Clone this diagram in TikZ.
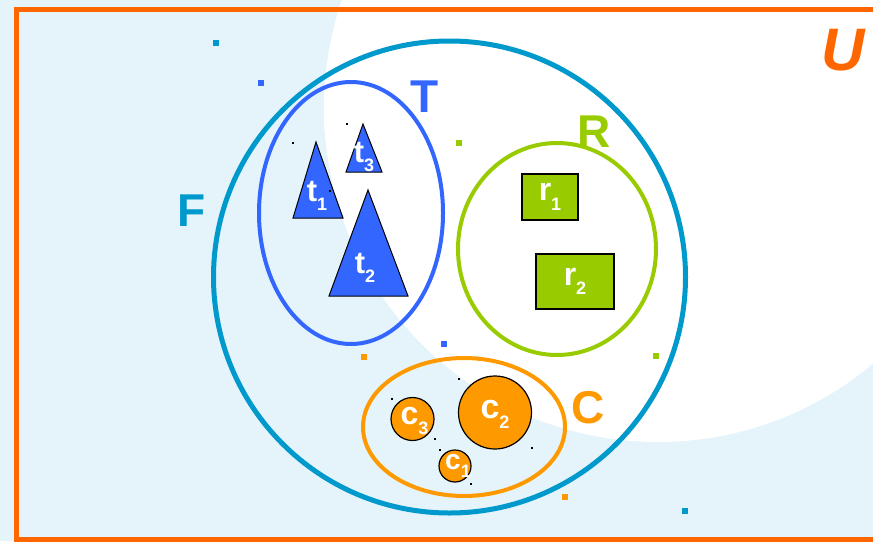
\documentclass[tikz,border=0pt]{standalone}
\usepackage{fontspec}
\setmainfont{Liberation Sans}
\definecolor{bg}{RGB}{228,244,250}
\definecolor{uorange}{RGB}{255,102,0}
\definecolor{fteal}{RGB}{0,153,204}
\definecolor{tblue}{RGB}{51,102,255}
\definecolor{rgreen}{RGB}{153,204,0}
\definecolor{corange}{RGB}{255,153,0}
\pgfdeclareradialshading{blob}{\pgfpoint{0bp}{0bp}}{color(0bp)=(white); color(41bp)=(white); color(50bp)=(bg)}
\newcommand{\elbl}[3]{\fontsize{#3}{#3}\selectfont\bfseries #1\raisebox{-0.3em}{\fontsize{18}{18}\selectfont #2}}
\begin{document}
\begin{tikzpicture}[x=1pt,y=-1pt,
  setlbl/.style={font=\fontsize{46}{46}\selectfont\bfseries, inner sep=0pt},
  elem/.style={text=white, inner sep=0pt},
  tri/.style={fill=tblue, draw=black, line width=1pt, line join=miter},
  rbox/.style={fill=rgreen, draw=black, line width=1.2pt, minimum width=#1, inner sep=0pt},
  cdisc/.style={circle, fill=corange, draw=black, line width=1.2pt, minimum size=#1, inner sep=0pt},
  cdot/.style={minimum size=6pt, inner sep=0pt, fill=#1},
  kdot/.style={minimum size=2pt, inner sep=0pt, fill=black}]
\useasboundingbox (0,0) rectangle (873,541);
\fill[bg] (0,0) rectangle (873,541);
\begin{scope}
\clip (0,0) rectangle (873,541);
\shade[shading=blob] (658,108) circle [radius=334pt];
\draw[uorange, line width=5pt] (16,9) rectangle (880,539);
\end{scope}
% sets
\draw[fteal, line width=5pt] (449.5,277) ellipse [x radius=236pt, y radius=236pt];
\draw[tblue, line width=4pt] (351,213) ellipse [x radius=92pt, y radius=131pt];
\draw[rgreen, line width=4pt] (557,249) ellipse [x radius=99pt, y radius=106pt];
\draw[corange, line width=4pt] (464,427) ellipse [x radius=101pt, y radius=69pt];
% labels of sets
\node[setlbl, text=uorange, font=\fontsize{60}{60}\selectfont\bfseries\itshape] (U) at (843,50) {U};
\node[setlbl, text=tblue] (T) at (425,97) {T};
\node[setlbl, text=rgreen] (R) at (594,132) {R};
\node[setlbl, text=fteal] (F) at (192,211) {F};
\node[setlbl, text=corange] (C) at (588,408) {C};
% triangles
\coordinate (t1a) at (316,142); \coordinate (t1b) at (293,218); \coordinate (t1c) at (343,218);
\coordinate (t3a) at (363,124); \coordinate (t3b) at (346,172); \coordinate (t3c) at (382,172);
\coordinate (t2a) at (368,190); \coordinate (t2b) at (329,296); \coordinate (t2c) at (408,296);
\draw[tri] (t1a) -- (t1b) -- (t1c) -- cycle;
\draw[tri] (t3a) -- (t3b) -- (t3c) -- cycle;
\draw[tri] (t2a) -- (t2b) -- (t2c) -- cycle;
\node[elem] (t1) at (317,196) {\elbl{t}{1}{31}};
\node[elem] (t3) at (364,157) {\elbl{t}{3}{31}};
\node[elem] (t2) at (365,268) {\elbl{t}{2}{31}};
% rectangles
\node[rbox=56pt, minimum height=46pt] (r1) at (550,197) {};
\node[rbox=78pt, minimum height=55pt] (r2) at (575,281.5) {};
\node[elem] at (r1) {\elbl{r}{1}{32}};
\node[elem] at (r2) {\elbl{r}{2}{32}};
% circles
\node[cdisc=43pt] (c3) at (412.5,419) {};
\node[cdisc=73pt] (c2) at (495,412.5) {};
\node[cdisc=32pt] (c1) at (455,466) {};
\node[elem] at ([xshift=2pt,yshift=-2pt]c3) {\elbl{c}{3}{32}};
\node[elem] at ([xshift=0pt,yshift=-2pt]c2) {\elbl{c}{2}{34}};
\node[elem] at ([xshift=3pt,yshift=0pt]c1) {\elbl{c}{1}{28}};
% coloured dots
\node[cdot=fteal] (d1) at (215.5,43) {};
\node[cdot=tblue] (d2) at (261,82.5) {};
\node[cdot=rgreen] (d3) at (459,143) {};
\node[cdot=rgreen] (d4) at (656,356) {};
\node[cdot=corange] (d5) at (364,357) {};
\node[cdot=tblue] (d6) at (444,344) {};
\node[cdot=corange] (d7) at (565,497) {};
\node[cdot=fteal] (d8) at (684.5,511) {};
% tiny black dots
\foreach \p [count=\i] in {(293,143),(347,124),(330,191),(392,399),(459,379),(435,439),(440,450),(532,448),(471,484)}
  \node[kdot] (k\i) at \p {};
\end{tikzpicture}
\end{document}
